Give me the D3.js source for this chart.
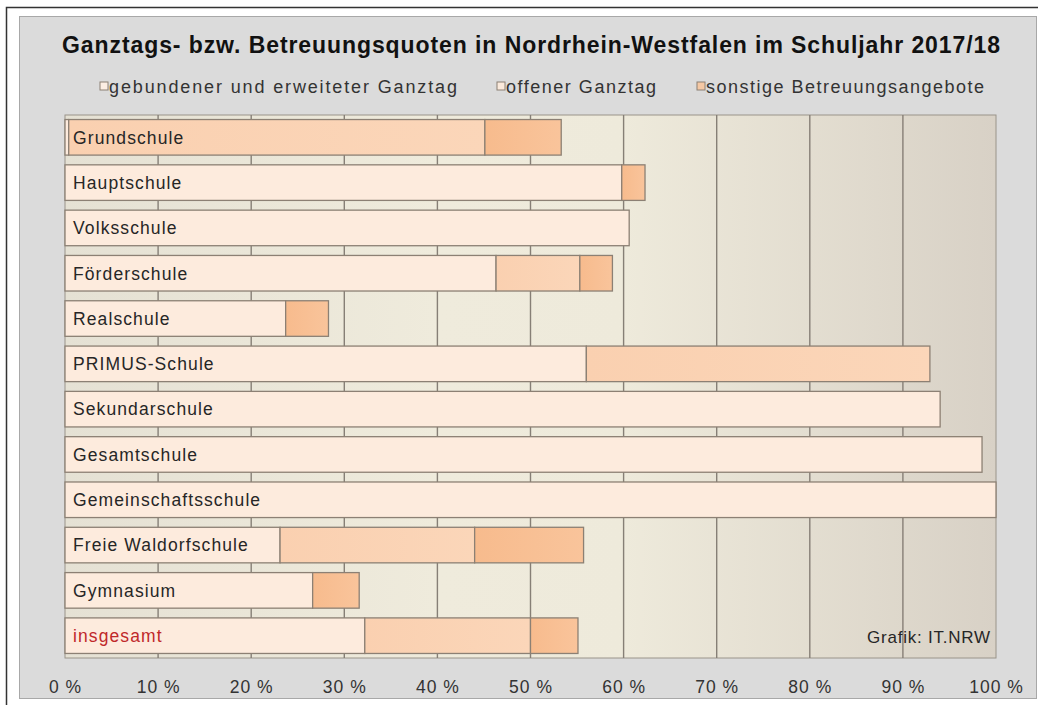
<!DOCTYPE html>
<html><head><meta charset="utf-8">
<script src="https://cdn.jsdelivr.net/npm/d3@7"></script>
<style>body{margin:0;background:#fff}svg{display:block}text{font-family:Arial,"Liberation Sans",sans-serif}</style>
</head><body>
<svg id="c" width="1041" height="705"></svg>
<script>
const title = "Ganztags- bzw. Betreuungsquoten in Nordrhein-Westfalen im Schuljahr 2017/18";
const seriesNames = ["gebundener und erweiteter Ganztag", "offener Ganztag", "sonstige Betreuungsangebote"];
const categories = ["Grundschule","Hauptschule","Volksschule","Förderschule","Realschule","PRIMUS-Schule","Sekundarschule","Gesamtschule","Gemeinschaftsschule","Freie Waldorfschule","Gymnasium","insgesamt"];
const gebunden = [0.4, 59.8, 60.6, 46.3, 23.7, 56.0, 94.0, 98.5, 100, 23.1, 26.6, 32.2];
const offen    = [44.7, 0, 0, 9.0, 0, 36.9, 0, 0, 0, 20.9, 0, 17.8];
const sonstige = [8.2, 2.5, 0, 3.5, 4.6, 0, 0, 0, 0, 11.7, 5.0, 5.1];
const tickValues = [0,10,20,30,40,50,60,70,80,90,100];
const source = "Grafik: IT.NRW";

const svg = d3.select("#c");
const defs = svg.append("defs");
const bg = defs.append("linearGradient").attr("id","bg").attr("x1","0").attr("x2","1").attr("y1","0").attr("y2","0");
[["0%","#E5E1D4"],["40%","#EFEBDC"],["60%","#EEEADB"],["100%","#D8D1C6"]].forEach(s=>bg.append("stop").attr("offset",s[0]).attr("stop-color",s[1]));
const gOff = defs.append("linearGradient").attr("id","gOff").attr("x1","0").attr("x2","1").attr("y1","0").attr("y2","0");
[["0%","#FAD0B0"],["100%","#FBD6B9"]].forEach(s=>gOff.append("stop").attr("offset",s[0]).attr("stop-color",s[1]));
const gSon = defs.append("linearGradient").attr("id","gSon").attr("x1","0").attr("x2","1").attr("y1","0").attr("y2","0");
[["0%","#F7BB8D"],["100%","#F9C49B"]].forEach(s=>gSon.append("stop").attr("offset",s[0]).attr("stop-color",s[1]));

// frame
svg.append("rect").attr("x",19.5).attr("y",16.5).attr("width",1017).attr("height",682).attr("fill","#DBDBDB").attr("stroke","#A8A8A8");
svg.append("path").attr("d","M6.5,705 V7.5 H1038").attr("fill","none").attr("stroke","#333").attr("stroke-width",1.5);

const x = d3.scaleLinear().domain([0,100]).range([65,996]);
const y = d3.scaleBand().domain(categories).range([115,658]).paddingInner(0.215).paddingOuter(0.1);

svg.append("rect").attr("x",x(0)).attr("y",115).attr("width",x(100)-x(0)).attr("height",543).attr("fill","url(#bg)").attr("stroke","#9A948A");

svg.append("g").selectAll("line").data(tickValues.slice(1,-1)).join("line")
  .attr("x1",d=>x(d)).attr("x2",d=>x(d)).attr("y1",115).attr("y2",658)
  .attr("stroke","#867F76").attr("stroke-width",1.4);

const fills = ["#FDEBDD","url(#gOff)","url(#gSon)"];
const series = [gebunden, offen, sonstige];
const rows = categories.map((c,i)=>({c, vals: series.map(s=>s[i])}));
const segs = [];
rows.forEach(r=>{let acc=0; r.vals.forEach((v,k)=>{ if(v>0){segs.push({c:r.c,k,x0:acc,x1:acc+v});} acc+=v;});});
svg.append("g").selectAll("rect").data(segs).join("rect")
  .attr("x",d=>x(d.x0)).attr("width",d=>x(d.x1)-x(d.x0))
  .attr("y",d=>y(d.c)).attr("height",y.bandwidth())
  .attr("fill",d=>fills[d.k]).attr("stroke","#8C8074").attr("stroke-width",1.3);

svg.append("g").selectAll("text").data(categories).join("text")
  .attr("x",x(0)+8).attr("y",d=>y(d)+y.bandwidth()/2).attr("dy","0.36em")
  .attr("font-size",17.5).attr("letter-spacing","1.1px")
  .attr("fill",d=>d==="insgesamt"?"#C0282A":"#262626").text(d=>d);

const axis = d3.axisBottom(x).tickValues(tickValues).tickFormat(d=>d+" %").tickSize(0).tickPadding(23);
const ag = svg.append("g").attr("transform","translate(0,658)").call(axis);
ag.select(".domain").remove();
ag.selectAll("text").attr("font-size",17.5).attr("letter-spacing","1px").attr("fill","#333").attr("font-family","Arial,'Liberation Sans',sans-serif");

svg.append("text").attr("x",62).attr("y",53).attr("font-size",23).attr("font-weight","bold").attr("fill","#111")
  .attr("textLength",938).attr("lengthAdjust","spacing").text(title);

const legX = [100, 497, 697];
const legW = [348, 150, 278];
const legFill = ["#FCEEE4","#FBEADC","#F5C8A4"];
const lg = svg.append("g");
seriesNames.forEach((n,i)=>{
  lg.append("rect").attr("x",legX[i]).attr("y",82).attr("width",8).attr("height",8).attr("fill",legFill[i]).attr("stroke","#8C8074");
  lg.append("text").attr("x",legX[i]+9).attr("y",93).attr("font-size",18).attr("fill","#333")
    .attr("textLength",legW[i]).attr("lengthAdjust","spacing").text(n);
});

svg.append("text").attr("x",867).attr("y",643).attr("font-size",17).attr("fill","#262626")
  .attr("textLength",123).attr("lengthAdjust","spacing").text(source);
</script>
</body></html>
